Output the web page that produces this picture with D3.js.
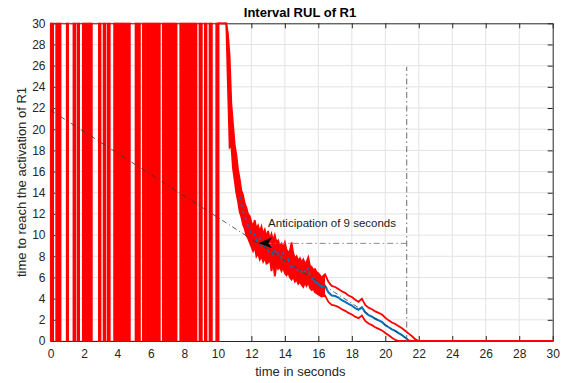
<!DOCTYPE html>
<html>
<head>
<meta charset="utf-8">
<title>Interval RUL of R1</title>
<script src="https://d3js.org/d3.v7.min.js"></script>
<style>
  body { margin: 0; background: #fff; }
  svg { display: block; font-family: "Liberation Sans", Arial, sans-serif; }
</style>
</head>
<body>
<div id="viz"><svg width="563" height="383"></svg></div>
<script>
// tick labels
var xTicks = [0, 2, 4, 6, 8, 10, 12, 14, 16, 18, 20, 22, 24, 26, 28, 30];
var yTicks = [0, 2, 4, 6, 8, 10, 12, 14, 16, 18, 20, 22, 24, 26, 28, 30];

// before ~10 s the bounds flip between 0 and 30: spans where they oscillate (seconds)
var saturatedSpans = [
  [0, 0.17], [0.33, 0.61], [0.96, 1.06], [1.36, 1.48], [1.60, 1.72], [1.92, 2.32],
  [2.36, 2.48], [2.88, 3.0], [3.16, 3.28], [3.40, 3.55], [3.79, 3.95], [3.99, 4.23],
  [4.27, 4.75], [5.07, 5.35], [5.51, 5.66], [5.74, 6.54], [6.70, 7.54], [7.74, 8.73],
  [8.89, 9.05], [9.21, 9.33], [9.49, 9.65], [9.89, 10.05]
];

// RUL estimate after convergence
var rulTime = [
  10.0, 10.5, 10.6, 10.7, 10.8, 10.9, 11.0, 11.1, 11.2, 11.3,
  11.4, 11.5, 11.6, 11.7, 11.8, 11.9, 12.0, 12.1, 12.2, 12.3,
  12.4, 12.5, 12.6, 12.7, 12.8, 12.9, 13.0, 13.1, 13.2, 13.3,
  13.4, 13.5, 13.6, 13.7, 13.8, 13.9, 14.0, 14.1, 14.2, 14.3,
  14.4, 14.5, 14.6, 14.7, 14.8, 14.9, 15.0, 15.1, 15.2, 15.3,
  15.4, 15.5, 15.6, 15.7, 15.8, 15.9, 16.0, 16.2, 16.4, 16.6,
  16.8, 17.0, 17.2, 17.4, 17.6, 17.8, 18.0, 18.2, 18.4, 18.6,
  18.8, 19.0, 19.2, 19.4, 19.6, 19.8, 20.0, 20.2, 20.4, 20.6,
  20.8, 21.0, 21.2, 21.4, 21.6, 21.8, 22.0, 30.0
];
var rulCenter = [
  null, null, null, null, null, null, null, null, null, 13.6,
  12.9, 12.3, 11.8, 11.3, 10.9, 10.5, 10.2, 9.9, 10.1, 9.5,
  9.3, 9.7, 9.0, 9.2, 8.7, 9.1, 8.5, 8.4, 8.9, 8.2,
  8.6, 8.0, 8.3, 8.1, 7.8, 8.3, 7.6, 7.4, 7.7, 7.2,
  7.0, 7.3, 6.8, 6.9, 6.5, 6.7, 6.6, 6.3, 6.6, 6.4,
  6.9, 6.1, 5.8, 5.9, 5.6, 5.5, 5.4, 5.1, 5.2, 4.6,
  4.3, 4.25, 4.1, 3.85, 3.7, 3.5, 3.35, 3.1, 2.95, 3.2,
  2.7, 2.45, 2.3, 2.1, 1.95, 1.8, 1.5, 1.3, 1.1, 0.95,
  0.75, 0.55, 0.3, 0.05, 0, null, null, null
];
var rulUpper = [
  30, 30, 29.0, 26.9, 22.5, 20.5, 18.6, 17.6, 16.2, 15.3,
  14.2, 13.8, 13.0, 12.6, 12.0, 11.8, 11.2, 10.8, 11.4, 10.6,
  10.9, 10.3, 10.8, 10.1, 10.5, 9.8, 10.4, 9.6, 10.1, 9.5,
  10.0, 9.3, 9.5, 9.0, 9.2, 8.8, 9.3, 8.6, 8.4, 8.5,
  9.3, 8.3, 7.8, 8.0, 7.6, 7.8, 7.4, 7.7, 7.3, 7.5,
  7.9, 7.1, 7.0, 6.7, 6.8, 6.5, 6.4, 6.0, 6.3, 5.6,
  5.2, 5.1, 4.9, 4.7, 4.55, 4.3, 4.15, 3.9, 3.7, 4.0,
  3.4, 3.15, 3.0, 2.8, 2.65, 2.5, 2.2, 1.95, 1.75, 1.6,
  1.4, 1.2, 0.95, 0.7, 0.45, 0.15, 0, 0
];
var rulLower = [
  30, 30, 24.0, 18.3, 18.5, 16.3, 15.2, 14.0, 13.2, 12.2,
  11.7, 11.0, 10.6, 10.0, 9.7, 9.3, 8.9, 8.5, 8.9, 8.0,
  8.3, 7.7, 8.0, 7.5, 7.9, 7.3, 7.4, 7.8, 6.6, 7.4,
  6.1, 7.2, 6.8, 7.0, 6.6, 6.9, 6.4, 6.2, 6.5, 6.0,
  5.8, 6.1, 5.6, 5.8, 5.4, 5.6, 5.3, 5.1, 5.5, 5.2,
  5.6, 5.0, 4.8, 4.9, 4.6, 4.5, 4.4, 4.2, 4.3, 3.7,
  3.4, 3.35, 3.2, 3.0, 2.85, 2.65, 2.5, 2.3, 2.15, 2.4,
  1.9, 1.65, 1.5, 1.3, 1.15, 1.0, 0.75, 0.55, 0.3, 0.1,
  0, 0, 0, 0, 0, 0, 0, 0
];

// annotation
var trendLine = [[0, 21.8], [21.5, 0]];
var activationTime = 21.28;
var activationMarkTop = 25.9;
var anticipationLevel = 9.22;
var arrowTipTime = 12.41;
var noteText = "Anticipation of 9 seconds";
var notePos = [13.0, 10.8];

var svg = d3.select("svg");
var x = d3.scaleLinear().domain([0, 30]).range([50.5, 552.7]);
var y = d3.scaleLinear().domain([0, 30]).range([341, 23.3]);
var ink = "#262626";
var font = '"Liberation Sans", Arial, sans-serif';

// grid
svg.append("g").selectAll("line").data(xTicks.slice(1, -1)).enter().append("line")
  .attr("x1", function (d) { return x(d); }).attr("x2", function (d) { return x(d); })
  .attr("y1", y(0)).attr("y2", y(30))
  .attr("stroke", "#e3e3e3").attr("stroke-width", 1);
svg.append("g").selectAll("line").data(yTicks.slice(1, -1)).enter().append("line")
  .attr("y1", function (d) { return y(d); }).attr("y2", function (d) { return y(d); })
  .attr("x1", x(0)).attr("x2", x(30))
  .attr("stroke", "#e3e3e3").attr("stroke-width", 1);

// axes, ticks inward
function styleAxis(g) {
  g.attr("font-family", font).attr("font-size", 12);
  g.selectAll("text").attr("fill", ink);
  g.selectAll("line").attr("stroke", ink);
  g.select(".domain").attr("stroke", ink);
}
svg.append("g").attr("transform", "translate(0," + y(0) + ")")
  .call(d3.axisBottom(x).tickValues(xTicks).tickSizeInner(-5).tickSizeOuter(0).tickPadding(8))
  .call(styleAxis);
svg.append("g").attr("transform", "translate(0," + y(30) + ")")
  .call(d3.axisTop(x).tickValues(xTicks).tickFormat("").tickSizeInner(-5).tickSizeOuter(0))
  .call(styleAxis);
svg.append("g").attr("transform", "translate(" + x(0) + ",0)")
  .call(d3.axisLeft(y).tickValues(yTicks).tickSizeInner(-5).tickSizeOuter(0).tickPadding(5))
  .call(styleAxis);
svg.append("g").attr("transform", "translate(" + x(30) + ",0)")
  .call(d3.axisRight(y).tickValues(yTicks).tickFormat("").tickSizeInner(-5).tickSizeOuter(0))
  .call(styleAxis);

// clip for data
svg.append("clipPath").attr("id", "plotclip").append("rect")
  .attr("x", x(0) - 1).attr("y", y(30) - 1)
  .attr("width", x(30) - x(0) + 2).attr("height", y(0) - y(30) + 2);
var plot = svg.append("g").attr("clip-path", "url(#plotclip)");

// bounds sitting on 0 / 30 between flips
plot.append("line").attr("x1", x(0)).attr("x2", x(10.5)).attr("y1", y(30)).attr("y2", y(30))
  .attr("stroke", "red").attr("stroke-opacity", 0.3).attr("stroke-width", 1);
plot.append("line").attr("x1", x(0)).attr("x2", x(10.05)).attr("y1", y(0)).attr("y2", y(0))
  .attr("stroke", "red").attr("stroke-opacity", 0.3).attr("stroke-width", 1);

plot.selectAll("rect.sat").data(saturatedSpans).enter().append("rect")
  .attr("class", "sat")
  .attr("x", function (d) { return x(d[0]); })
  .attr("width", function (d) { return Math.max(1.5, x(d[1]) - x(d[0])); })
  .attr("y", y(30)).attr("height", y(0) - y(30))
  .attr("fill", "red").attr("stroke", "red").attr("stroke-width", 1.4);

var rows = rulTime.map(function (t, i) {
  return { t: t, lo: rulLower[i], c: rulCenter[i], hi: rulUpper[i] };
});

var lineOf = function (key) {
  return d3.line()
    .defined(function (d) { return d[key] !== null; })
    .x(function (d) { return x(d.t); })
    .y(function (d) { return y(d[key]); });
};

// dense oscillation region filled
var band = d3.area()
  .x(function (d) { return x(d.t); })
  .y0(function (d) { return y(d.lo); })
  .y1(function (d) { return y(d.hi); });
plot.append("path").datum(rows.filter(function (d) { return d.t <= 16.4; }))
  .attr("d", band).attr("fill", "red");

// centre estimate: only glimpses of it show through the noisy part
plot.append("path").datum(rows.filter(function (d) { return d.t <= 15.6; }))
  .attr("d", lineOf("c"))
  .attr("fill", "none").attr("stroke", "#0072bd").attr("stroke-width", 1.6)
  .attr("stroke-dasharray", "3,4");
plot.append("path").datum(rows.filter(function (d) { return d.t >= 15.6; }))
  .attr("d", lineOf("c"))
  .attr("fill", "none").attr("stroke", "#0072bd").attr("stroke-width", 2);
plot.append("path").datum(rows).attr("d", lineOf("hi"))
  .attr("fill", "none").attr("stroke", "red").attr("stroke-width", 1.8);
plot.append("path").datum(rows).attr("d", lineOf("lo"))
  .attr("fill", "none").attr("stroke", "red").attr("stroke-width", 1.8);

// annotation
plot.append("line")
  .attr("x1", x(trendLine[0][0])).attr("y1", y(trendLine[0][1]))
  .attr("x2", x(trendLine[1][0])).attr("y2", y(trendLine[1][1]))
  .attr("stroke", "#333").attr("stroke-width", 0.8).attr("stroke-dasharray", "5,3,1,3");

svg.append("line")
  .attr("x1", x(activationTime)).attr("x2", x(activationTime))
  .attr("y1", y(0)).attr("y2", y(activationMarkTop))
  .attr("stroke", "#6b6b6b").attr("stroke-width", 1).attr("stroke-dasharray", "6,3,1.5,3");

svg.append("line")
  .attr("x1", x(activationTime)).attr("x2", x(arrowTipTime) + 10)
  .attr("y1", y(anticipationLevel)).attr("y2", y(anticipationLevel))
  .attr("stroke", "#8c8c8c").attr("stroke-width", 1).attr("stroke-dasharray", "6,3,1.5,3");

var tipX = x(arrowTipTime), tipY = y(anticipationLevel);
svg.append("path")
  .attr("d", "M" + tipX + "," + tipY + " l14,-6 l-4,6 l4,5 z")
  .attr("fill", "#000");

svg.append("text")
  .attr("x", x(notePos[0])).attr("y", y(notePos[1]))
  .attr("font-family", font).attr("font-size", 11.5).attr("fill", "#1a1a1a")
  .text(noteText);

// titles
svg.append("text")
  .attr("x", 300).attr("y", 17).attr("text-anchor", "middle")
  .attr("font-family", font).attr("font-size", 13).attr("font-weight", "bold").attr("fill", "#000")
  .text("Interval RUL of R1");
svg.append("text")
  .attr("x", 300.4).attr("y", 376).attr("text-anchor", "middle")
  .attr("font-family", font).attr("font-size", 13).attr("fill", ink)
  .text("time in seconds");
svg.append("text")
  .attr("transform", "translate(26,182) rotate(-90)").attr("text-anchor", "middle")
  .attr("font-family", font).attr("font-size", 13).attr("fill", ink)
  .text("time to reach the activation of R1");
</script>
</body>
</html>
